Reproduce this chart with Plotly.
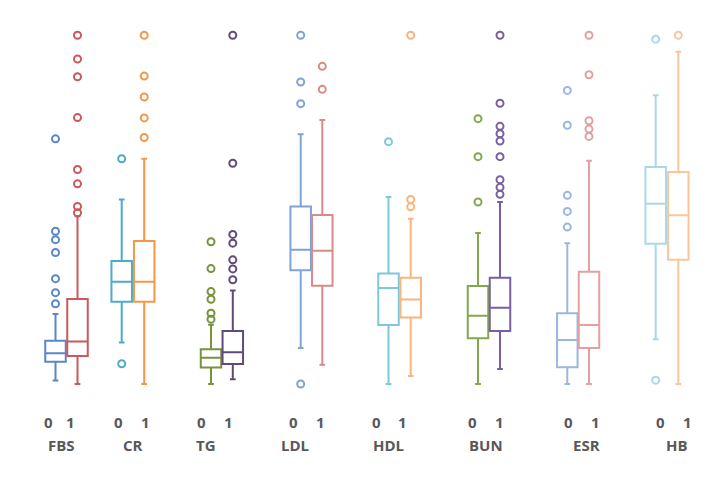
import plotly.graph_objects as go

# ---------------- data (normalised values) ----------------
groups = ["FBS", "CR", "TG", "LDL", "HDL", "BUN", "ESR", "HB"]
sub_labels = ["0", "1"]

lower_0  = [0.010, 0.119, 0.000, 0.103, 0.000, 0.000, 0.000, 0.128]
q1_0     = [0.064, 0.236, 0.047, 0.326, 0.169, 0.131, 0.048, 0.402]
median_0 = [0.088, 0.293, 0.075, 0.385, 0.275, 0.196, 0.126, 0.517]
q3_0     = [0.124, 0.353, 0.100, 0.509, 0.317, 0.281, 0.203, 0.622]
upper_0  = [0.201, 0.529, 0.170, 0.716, 0.536, 0.433, 0.404, 0.828]
outliers_0 = [
    [0.230, 0.262, 0.302, 0.377, 0.414, 0.438, 0.703],
    [0.058, 0.646],
    [0.186, 0.203, 0.243, 0.265, 0.331, 0.408],
    [0.000, 0.804, 0.866, 1.000],
    [0.695],
    [0.522, 0.652, 0.761],
    [0.450, 0.495, 0.541, 0.742, 0.842],
    [0.011, 0.989],
]

lower_1  = [0.000, 0.000, 0.0135, 0.055, 0.023, 0.043, 0.000, 0.000]
q1_1     = [0.080, 0.236, 0.057, 0.282, 0.191, 0.152, 0.103, 0.356]
median_1 = [0.122, 0.293, 0.091, 0.382, 0.242, 0.219, 0.169, 0.484]
q3_1     = [0.244, 0.410, 0.152, 0.485, 0.305, 0.305, 0.322, 0.608]
upper_1  = [0.481, 0.646, 0.268, 0.757, 0.474, 0.522, 0.640, 0.953]
outliers_1 = [
    [0.491, 0.509, 0.574, 0.615, 0.764, 0.881, 0.932, 1.000],
    [0.707, 0.763, 0.823, 0.883, 1.000],
    [0.299, 0.330, 0.356, 0.404, 0.429, 0.633, 1.000],
    [0.845, 0.911],
    [0.508, 0.529, 1.000],
    [0.544, 0.564, 0.586, 0.652, 0.697, 0.718, 0.739, 0.805, 1.000],
    [0.710, 0.731, 0.755, 0.887, 1.000],
    [1.000],
]

# ---------------- layout / style ----------------
pos_0 = [55.5, 121.7, 211.0, 300.7, 388.5, 478.0, 567.3, 655.7]
pos_1 = [77.5, 144.2, 232.8, 322.3, 410.7, 500.0, 589.0, 678.3]
label_pos_0 = [48.3, 118.3, 201.7, 293.3, 376.7, 472.3, 568.3, 660.0]
label_pos_1 = [70.0, 145.0, 228.3, 320.0, 402.7, 499.7, 595.0, 687.3]
group_label_pos = [61.7, 133.3, 205.7, 295.0, 388.3, 486.0, 586.7, 676.7]

colors_0 = ["#5b87c8", "#4bacc6", "#77933c", "#7fa3d6", "#7ec8dc", "#83a84c", "#9ab7e0", "#a8d9e8"]
colors_1 = ["#c9595a", "#f79646", "#604a7b", "#d98a88", "#fbb47a", "#7a5fa0", "#e2a0a0", "#fcc69c"]

PAGE_W, PAGE_H = 709, 478
OFF = 8  # default page margin around the plot div
W, H = PAGE_W - OFF, PAGE_H - OFF
px_zero, px_one = 384.0, 35.3
scale = px_zero - px_one
y_range = [(px_zero - PAGE_H) / scale, (px_zero - OFF) / scale]

fig = go.Figure()

def add_box(x, lo, q1, med, q3, up, outs, color):
    fig.add_trace(go.Box(
        x=[x], q1=[q1], median=[med], q3=[q3],
        lowerfence=[lo], upperfence=[up],
        width=20.5, whiskerwidth=0.28,
        line=dict(color=color, width=2),
        fillcolor="rgba(255,255,255,0)",
        boxpoints=False, showlegend=False, hoverinfo="skip",
    ))
    if outs:
        fig.add_trace(go.Scatter(
            x=[x] * len(outs), y=outs, mode="markers",
            marker=dict(symbol="circle-open", size=7, color=color,
                        line=dict(color=color, width=2)),
            showlegend=False, hoverinfo="skip",
        ))

for i in range(len(groups)):
    add_box(pos_0[i], lower_0[i], q1_0[i], median_0[i], q3_0[i], upper_0[i], outliers_0[i], colors_0[i])
    add_box(pos_1[i], lower_1[i], q1_1[i], median_1[i], q3_1[i], upper_1[i], outliers_1[i], colors_1[i])

def paper_y(page_px):
    return 1 - (page_px - OFF) / H

label_font = dict(family="Open Sans", size=15, color="#595959", weight="bold")
annotations = []
for i, g in enumerate(groups):
    annotations.append(dict(x=label_pos_0[i], y=paper_y(434), xref="x", yref="paper",
                            text=sub_labels[0], showarrow=False, font=label_font))
    annotations.append(dict(x=label_pos_1[i], y=paper_y(434), xref="x", yref="paper",
                            text=sub_labels[1], showarrow=False, font=label_font))
    annotations.append(dict(x=group_label_pos[i], y=paper_y(457), xref="x", yref="paper",
                            text=g, showarrow=False, font=label_font))

fig.update_layout(
    width=W, height=H,
    margin=dict(l=0, r=0, t=0, b=0),
    paper_bgcolor="white", plot_bgcolor="white",
    xaxis=dict(range=[OFF, PAGE_W], visible=False, fixedrange=True),
    yaxis=dict(range=y_range, visible=False, fixedrange=True),
    annotations=annotations,
    showlegend=False,
)

fig.write_html("out.html")
